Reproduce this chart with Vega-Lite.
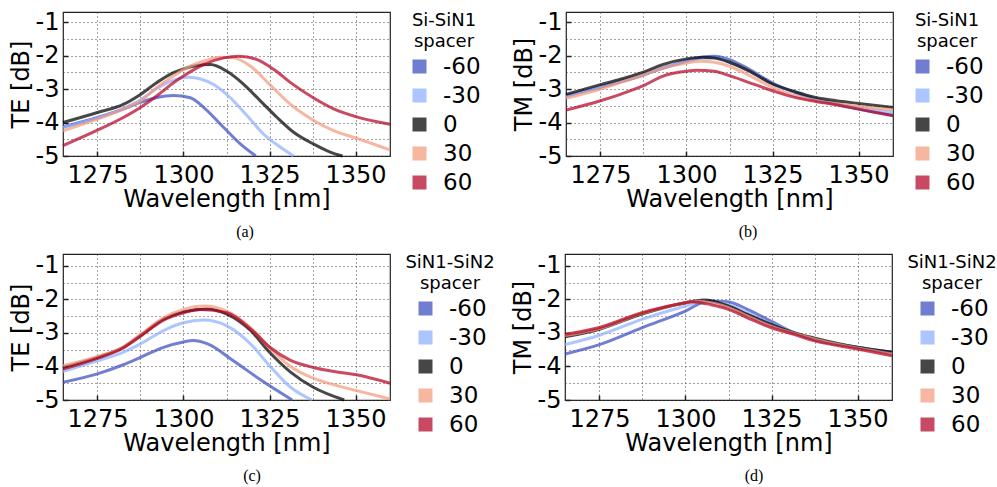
{
  "$schema": "https://vega.github.io/schema/vega-lite/v6.json",
  "padding": {"left": 8, "top": 9, "right": 0, "bottom": 0},
  "datasets": {
    "d": [
      {"p":"a","s":"-60","x":1265,"y":-4.13},{"p":"a","s":"-60","x":1275,"y":-3.85},{"p":"a","s":"-60","x":1282.5,"y":-3.6},{"p":"a","s":"-60","x":1287.5,"y":-3.4},{"p":"a","s":"-60","x":1292,"y":-3.26},{"p":"a","s":"-60","x":1297,"y":-3.19},{"p":"a","s":"-60","x":1302,"y":-3.26},{"p":"a","s":"-60","x":1306,"y":-3.56},{"p":"a","s":"-60","x":1311.7,"y":-4.15},{"p":"a","s":"-60","x":1316.5,"y":-4.64},{"p":"a","s":"-60","x":1321,"y":-5},
      {"p":"a","s":"-30","x":1265,"y":-4.15},{"p":"a","s":"-30","x":1275,"y":-3.86},{"p":"a","s":"-30","x":1282.5,"y":-3.58},{"p":"a","s":"-30","x":1287.5,"y":-3.32},{"p":"a","s":"-30","x":1292,"y":-3.0},{"p":"a","s":"-30","x":1297,"y":-2.74},{"p":"a","s":"-30","x":1301.5,"y":-2.65},{"p":"a","s":"-30","x":1305,"y":-2.7},{"p":"a","s":"-30","x":1309,"y":-2.88},{"p":"a","s":"-30","x":1313.6,"y":-3.26},{"p":"a","s":"-30","x":1318.5,"y":-3.8},{"p":"a","s":"-30","x":1323.3,"y":-4.35},{"p":"a","s":"-30","x":1328.2,"y":-4.74},{"p":"a","s":"-30","x":1332,"y":-5},
      {"p":"a","s":"0","x":1265,"y":-4.0},{"p":"a","s":"0","x":1275,"y":-3.7},{"p":"a","s":"0","x":1282.5,"y":-3.46},{"p":"a","s":"0","x":1287.5,"y":-3.16},{"p":"a","s":"0","x":1292.2,"y":-2.81},{"p":"a","s":"0","x":1297.1,"y":-2.51},{"p":"a","s":"0","x":1300,"y":-2.4},{"p":"a","s":"0","x":1303.9,"y":-2.3},{"p":"a","s":"0","x":1307.8,"y":-2.27},{"p":"a","s":"0","x":1312.6,"y":-2.47},{"p":"a","s":"0","x":1317.5,"y":-2.86},{"p":"a","s":"0","x":1322.4,"y":-3.36},{"p":"a","s":"0","x":1327.2,"y":-3.85},{"p":"a","s":"0","x":1332.1,"y":-4.3},{"p":"a","s":"0","x":1337.7,"y":-4.64},{"p":"a","s":"0","x":1342.8,"y":-4.89},{"p":"a","s":"0","x":1346.2,"y":-5},
      {"p":"a","s":"30","x":1265,"y":-4.25},{"p":"a","s":"30","x":1275,"y":-3.9},{"p":"a","s":"30","x":1282.5,"y":-3.6},{"p":"a","s":"30","x":1287.5,"y":-3.36},{"p":"a","s":"30","x":1292.2,"y":-2.96},{"p":"a","s":"30","x":1297.1,"y":-2.61},{"p":"a","s":"30","x":1300,"y":-2.42},{"p":"a","s":"30","x":1305.8,"y":-2.17},{"p":"a","s":"30","x":1310.7,"y":-2.05},{"p":"a","s":"30","x":1314.6,"y":-2.07},{"p":"a","s":"30","x":1319.5,"y":-2.32},{"p":"a","s":"30","x":1325,"y":-2.86},{"p":"a","s":"30","x":1331.1,"y":-3.46},{"p":"a","s":"30","x":1337.7,"y":-3.93},{"p":"a","s":"30","x":1343.8,"y":-4.25},{"p":"a","s":"30","x":1350.3,"y":-4.47},{"p":"a","s":"30","x":1360,"y":-4.82},
      {"p":"a","s":"60","x":1265,"y":-4.69},{"p":"a","s":"60","x":1275,"y":-4.23},{"p":"a","s":"60","x":1282.5,"y":-3.85},{"p":"a","s":"60","x":1287.5,"y":-3.55},{"p":"a","s":"60","x":1292.2,"y":-3.21},{"p":"a","s":"60","x":1297.1,"y":-2.81},{"p":"a","s":"60","x":1300,"y":-2.61},{"p":"a","s":"60","x":1305.8,"y":-2.27},{"p":"a","s":"60","x":1311.7,"y":-2.07},{"p":"a","s":"60","x":1316.1,"y":-2.02},{"p":"a","s":"60","x":1321.4,"y":-2.12},{"p":"a","s":"60","x":1326.3,"y":-2.42},{"p":"a","s":"60","x":1331.1,"y":-2.81},{"p":"a","s":"60","x":1337.7,"y":-3.26},{"p":"a","s":"60","x":1343.8,"y":-3.6},{"p":"a","s":"60","x":1350.3,"y":-3.83},{"p":"a","s":"60","x":1360,"y":-4.05},

      {"p":"b","s":"-60","x":1265,"y":-3.2},{"p":"b","s":"-60","x":1275,"y":-2.95},{"p":"b","s":"-60","x":1281,"y":-2.78},{"p":"b","s":"-60","x":1287.5,"y":-2.58},{"p":"b","s":"-60","x":1293,"y":-2.38},{"p":"b","s":"-60","x":1300,"y":-2.17},{"p":"b","s":"-60","x":1304.5,"y":-2.05},{"p":"b","s":"-60","x":1308,"y":-2.02},{"p":"b","s":"-60","x":1312.5,"y":-2.12},{"p":"b","s":"-60","x":1318,"y":-2.4},{"p":"b","s":"-60","x":1325,"y":-2.82},{"p":"b","s":"-60","x":1331.5,"y":-3.1},{"p":"b","s":"-60","x":1337.5,"y":-3.3},{"p":"b","s":"-60","x":1343.5,"y":-3.45},{"p":"b","s":"-60","x":1350,"y":-3.6},{"p":"b","s":"-60","x":1360,"y":-3.78},
      {"p":"b","s":"-30","x":1265,"y":-3.22},{"p":"b","s":"-30","x":1275,"y":-2.92},{"p":"b","s":"-30","x":1287.5,"y":-2.55},{"p":"b","s":"-30","x":1293,"y":-2.35},{"p":"b","s":"-30","x":1300,"y":-2.15},{"p":"b","s":"-30","x":1304.5,"y":-2.08},{"p":"b","s":"-30","x":1308,"y":-2.08},{"p":"b","s":"-30","x":1312.5,"y":-2.2},{"p":"b","s":"-30","x":1318,"y":-2.45},{"p":"b","s":"-30","x":1325,"y":-2.85},{"p":"b","s":"-30","x":1331.5,"y":-3.1},{"p":"b","s":"-30","x":1337.5,"y":-3.3},{"p":"b","s":"-30","x":1343.5,"y":-3.43},{"p":"b","s":"-30","x":1350,"y":-3.55},{"p":"b","s":"-30","x":1360,"y":-3.7},
      {"p":"b","s":"0","x":1265,"y":-3.16},{"p":"b","s":"0","x":1275,"y":-2.87},{"p":"b","s":"0","x":1281,"y":-2.7},{"p":"b","s":"0","x":1287.5,"y":-2.5},{"p":"b","s":"0","x":1293,"y":-2.27},{"p":"b","s":"0","x":1300,"y":-2.1},{"p":"b","s":"0","x":1304.5,"y":-2.05},{"p":"b","s":"0","x":1308,"y":-2.07},{"p":"b","s":"0","x":1312.5,"y":-2.2},{"p":"b","s":"0","x":1318,"y":-2.45},{"p":"b","s":"0","x":1325,"y":-2.85},{"p":"b","s":"0","x":1331.5,"y":-3.08},{"p":"b","s":"0","x":1337.5,"y":-3.25},{"p":"b","s":"0","x":1343.5,"y":-3.35},{"p":"b","s":"0","x":1350,"y":-3.43},{"p":"b","s":"0","x":1360,"y":-3.55},
      {"p":"b","s":"30","x":1265,"y":-3.28},{"p":"b","s":"30","x":1275,"y":-3.0},{"p":"b","s":"30","x":1281,"y":-2.8},{"p":"b","s":"30","x":1287.5,"y":-2.58},{"p":"b","s":"30","x":1293,"y":-2.38},{"p":"b","s":"30","x":1300,"y":-2.22},{"p":"b","s":"30","x":1304.5,"y":-2.17},{"p":"b","s":"30","x":1308,"y":-2.2},{"p":"b","s":"30","x":1312.5,"y":-2.32},{"p":"b","s":"30","x":1318,"y":-2.58},{"p":"b","s":"30","x":1325,"y":-2.95},{"p":"b","s":"30","x":1331.5,"y":-3.2},{"p":"b","s":"30","x":1337.5,"y":-3.35},{"p":"b","s":"30","x":1343.5,"y":-3.45},{"p":"b","s":"30","x":1350,"y":-3.52},{"p":"b","s":"30","x":1360,"y":-3.62},
      {"p":"b","s":"60","x":1265,"y":-3.63},{"p":"b","s":"60","x":1275,"y":-3.35},{"p":"b","s":"60","x":1281,"y":-3.15},{"p":"b","s":"60","x":1287.5,"y":-2.9},{"p":"b","s":"60","x":1293,"y":-2.62},{"p":"b","s":"60","x":1300,"y":-2.47},{"p":"b","s":"60","x":1303,"y":-2.44},{"p":"b","s":"60","x":1308,"y":-2.47},{"p":"b","s":"60","x":1312.5,"y":-2.6},{"p":"b","s":"60","x":1318,"y":-2.8},{"p":"b","s":"60","x":1325,"y":-3.05},{"p":"b","s":"60","x":1331.5,"y":-3.25},{"p":"b","s":"60","x":1337.5,"y":-3.37},{"p":"b","s":"60","x":1343.5,"y":-3.47},{"p":"b","s":"60","x":1350,"y":-3.6},{"p":"b","s":"60","x":1360,"y":-3.8},

      {"p":"c","s":"-60","x":1265,"y":-4.47},{"p":"c","s":"-60","x":1275,"y":-4.22},{"p":"c","s":"-60","x":1282.5,"y":-3.95},{"p":"c","s":"-60","x":1287.5,"y":-3.73},{"p":"c","s":"-60","x":1294.2,"y":-3.43},{"p":"c","s":"-60","x":1300,"y":-3.27},{"p":"c","s":"-60","x":1302.7,"y":-3.23},{"p":"c","s":"-60","x":1307,"y":-3.33},{"p":"c","s":"-60","x":1314.5,"y":-3.83},{"p":"c","s":"-60","x":1322.7,"y":-4.42},{"p":"c","s":"-60","x":1331.6,"y":-5},
      {"p":"c","s":"-30","x":1265,"y":-4.15},{"p":"c","s":"-30","x":1275,"y":-3.83},{"p":"c","s":"-30","x":1282.5,"y":-3.58},{"p":"c","s":"-30","x":1287.5,"y":-3.33},{"p":"c","s":"-30","x":1294.2,"y":-2.93},{"p":"c","s":"-30","x":1300,"y":-2.7},{"p":"c","s":"-30","x":1305.8,"y":-2.62},{"p":"c","s":"-30","x":1312.6,"y":-2.79},{"p":"c","s":"-30","x":1319.5,"y":-3.33},{"p":"c","s":"-30","x":1325,"y":-3.98},{"p":"c","s":"-30","x":1331.1,"y":-4.62},{"p":"c","s":"-30","x":1337.3,"y":-5},
      {"p":"c","s":"0","x":1265,"y":-4.03},{"p":"c","s":"0","x":1275,"y":-3.73},{"p":"c","s":"0","x":1282.5,"y":-3.43},{"p":"c","s":"0","x":1287.5,"y":-3.08},{"p":"c","s":"0","x":1294.2,"y":-2.59},{"p":"c","s":"0","x":1300,"y":-2.37},{"p":"c","s":"0","x":1306.8,"y":-2.29},{"p":"c","s":"0","x":1312.6,"y":-2.44},{"p":"c","s":"0","x":1319.5,"y":-2.93},{"p":"c","s":"0","x":1325,"y":-3.58},{"p":"c","s":"0","x":1331.1,"y":-4.17},{"p":"c","s":"0","x":1337.7,"y":-4.62},{"p":"c","s":"0","x":1346.7,"y":-5},
      {"p":"c","s":"30","x":1265,"y":-3.98},{"p":"c","s":"30","x":1275,"y":-3.7},{"p":"c","s":"30","x":1282.5,"y":-3.42},{"p":"c","s":"30","x":1287.5,"y":-3.05},{"p":"c","s":"30","x":1294.2,"y":-2.55},{"p":"c","s":"30","x":1300,"y":-2.3},{"p":"c","s":"30","x":1306,"y":-2.2},{"p":"c","s":"30","x":1312.6,"y":-2.35},{"p":"c","s":"30","x":1319.5,"y":-2.85},{"p":"c","s":"30","x":1325,"y":-3.45},{"p":"c","s":"30","x":1331.1,"y":-4.0},{"p":"c","s":"30","x":1337.7,"y":-4.35},{"p":"c","s":"30","x":1343.8,"y":-4.55},{"p":"c","s":"30","x":1350.3,"y":-4.72},{"p":"c","s":"30","x":1360,"y":-4.97},
      {"p":"c","s":"60","x":1265,"y":-4.08},{"p":"c","s":"60","x":1275,"y":-3.76},{"p":"c","s":"60","x":1282.5,"y":-3.45},{"p":"c","s":"60","x":1287.5,"y":-3.1},{"p":"c","s":"60","x":1294.2,"y":-2.62},{"p":"c","s":"60","x":1300,"y":-2.4},{"p":"c","s":"60","x":1305,"y":-2.3},{"p":"c","s":"60","x":1312.6,"y":-2.4},{"p":"c","s":"60","x":1319.5,"y":-2.88},{"p":"c","s":"60","x":1325,"y":-3.42},{"p":"c","s":"60","x":1331.1,"y":-3.82},{"p":"c","s":"60","x":1337.7,"y":-4.03},{"p":"c","s":"60","x":1343.8,"y":-4.15},{"p":"c","s":"60","x":1350.3,"y":-4.25},{"p":"c","s":"60","x":1360,"y":-4.5},

      {"p":"d","s":"-60","x":1265,"y":-3.63},{"p":"d","s":"-60","x":1275,"y":-3.35},{"p":"d","s":"-60","x":1287.3,"y":-2.85},{"p":"d","s":"-60","x":1300,"y":-2.35},{"p":"d","s":"-60","x":1306.5,"y":-2.05},{"p":"d","s":"-60","x":1312.3,"y":-2.07},{"p":"d","s":"-60","x":1318,"y":-2.3},{"p":"d","s":"-60","x":1324.8,"y":-2.65},{"p":"d","s":"-60","x":1331.7,"y":-3.0},{"p":"d","s":"-60","x":1337.3,"y":-3.2},{"p":"d","s":"-60","x":1349.9,"y":-3.43},{"p":"d","s":"-60","x":1360,"y":-3.58},
      {"p":"d","s":"-30","x":1265,"y":-3.35},{"p":"d","s":"-30","x":1275,"y":-3.07},{"p":"d","s":"-30","x":1287.3,"y":-2.6},{"p":"d","s":"-30","x":1300,"y":-2.2},{"p":"d","s":"-30","x":1304.5,"y":-2.08},{"p":"d","s":"-30","x":1310,"y":-2.1},{"p":"d","s":"-30","x":1318,"y":-2.4},{"p":"d","s":"-30","x":1324.8,"y":-2.72},{"p":"d","s":"-30","x":1331.7,"y":-3.0},{"p":"d","s":"-30","x":1337.3,"y":-3.18},{"p":"d","s":"-30","x":1349.9,"y":-3.43},{"p":"d","s":"-30","x":1360,"y":-3.63},
      {"p":"d","s":"0","x":1265,"y":-3.12},{"p":"d","s":"0","x":1275,"y":-2.89},{"p":"d","s":"0","x":1287.3,"y":-2.44},{"p":"d","s":"0","x":1300,"y":-2.1},{"p":"d","s":"0","x":1305.4,"y":-2.02},{"p":"d","s":"0","x":1312.3,"y":-2.19},{"p":"d","s":"0","x":1318,"y":-2.45},{"p":"d","s":"0","x":1324.8,"y":-2.74},{"p":"d","s":"0","x":1331.7,"y":-3.0},{"p":"d","s":"0","x":1337.3,"y":-3.15},{"p":"d","s":"0","x":1349.9,"y":-3.43},{"p":"d","s":"0","x":1360,"y":-3.58},
      {"p":"d","s":"30","x":1265,"y":-3.08},{"p":"d","s":"30","x":1275,"y":-2.87},{"p":"d","s":"30","x":1287.3,"y":-2.42},{"p":"d","s":"30","x":1300,"y":-2.1},{"p":"d","s":"30","x":1303,"y":-2.05},{"p":"d","s":"30","x":1308,"y":-2.12},{"p":"d","s":"30","x":1312.3,"y":-2.24},{"p":"d","s":"30","x":1318,"y":-2.5},{"p":"d","s":"30","x":1324.8,"y":-2.8},{"p":"d","s":"30","x":1331.7,"y":-3.02},{"p":"d","s":"30","x":1337.3,"y":-3.18},{"p":"d","s":"30","x":1349.9,"y":-3.45},{"p":"d","s":"30","x":1360,"y":-3.63},
      {"p":"d","s":"60","x":1265,"y":-3.04},{"p":"d","s":"60","x":1275,"y":-2.84},{"p":"d","s":"60","x":1287.3,"y":-2.4},{"p":"d","s":"60","x":1300,"y":-2.1},{"p":"d","s":"60","x":1301.6,"y":-2.07},{"p":"d","s":"60","x":1307.4,"y":-2.16},{"p":"d","s":"60","x":1312.3,"y":-2.29},{"p":"d","s":"60","x":1318,"y":-2.55},{"p":"d","s":"60","x":1324.8,"y":-2.84},{"p":"d","s":"60","x":1331.7,"y":-3.05},{"p":"d","s":"60","x":1337.3,"y":-3.23},{"p":"d","s":"60","x":1349.9,"y":-3.48},{"p":"d","s":"60","x":1360,"y":-3.68}
    ]
  },
  "config": {
    "font": "DejaVu Sans",
    "view": {"stroke": "#222", "strokeWidth": 1.2},
    "axis": {
      "labelFontSize": 24, "titleFontSize": 24, "titleFontWeight": "normal",
      "labelColor": "black", "titleColor": "black", "labelFont": "DejaVu Sans", "titleFont": "DejaVu Sans",
      "grid": true, "gridDash": [1, 3], "gridColor": "#444", "gridWidth": 1,
      "domain": false, "tickColor": "#222", "tickSize": -5, "tickWidth": 1.5
    },
    "legend": {
      "symbolType": "square", "symbolSize": 49, "symbolStrokeWidth": 7, "symbolOpacity": 0.72,
      "labelFontSize": 23, "labelColor": "black", "titleFontSize": 18, "titleFontWeight": "normal",
      "titleColor": "black", "titleLineHeight": 21, "rowPadding": -9, "offset": 12, "padding": 0,
      "titleAnchor": "middle", "titlePadding": 4, "labelOffset": 12
    },
    "line": {"opacity": 0.72, "interpolate": "monotone", "clip": true}
  },
  "spacing": 12,
  "resolve": {"scale": {"color": "independent"}, "legend": {"color": "independent"}},
  "vconcat": [
    {
      "spacing": 29,
      "resolve": {"scale": {"color": "independent"}, "legend": {"color": "independent"}},
      "hconcat": [
        {
          "data": {"name": "d"}, "transform": [{"filter": "datum.p == 'a'"}],
          "width": 327, "height": 144, "mark": {"type": "line"},
          "title": {"text": "(a)", "orient": "bottom", "font": "Liberation Serif", "fontSize": 16, "fontWeight": "normal", "color": "black", "frame": "bounds", "anchor": "middle", "offset": 13},
          "encoding": {
            "strokeWidth": {"value": 3},
            "x": {"field": "x", "type": "quantitative", "scale": {"domain": [1265, 1360], "nice": false, "zero": false},
              "axis": {"title": "Wavelength [nm]", "format": "d", "values": [1275, 1287.5, 1300, 1312.5, 1325, 1337.5, 1350], "labelExpr": "datum.value % 25 == 0 ? '' + datum.value : ''", "labelPadding": 12, "titlePadding": 0, "tickOpacity": {"condition": {"test": "datum.value % 25 == 0", "value": 1}, "value": 0}}},
            "y": {"field": "y", "type": "quantitative", "scale": {"domain": [-5, -0.7], "nice": false, "zero": false},
              "axis": {"title": "TE [dB]", "values": [-5, -4.5, -4, -3.5, -3, -2.5, -2, -1.5, -1], "labelExpr": "datum.value % 1 == 0 ? '-' + abs(datum.value) : ''", "labelPadding": 9, "titlePadding": 2, "tickOpacity": {"condition": {"test": "datum.value % 1 == 0", "value": 1}, "value": 0}}},
            "color": {"field": "s", "type": "nominal", "scale": {"domain": ["-60", "-30", "0", "30", "60"], "range": ["#3b4cc0", "#8db0fe", "#000000", "#f49a7b", "#b40426"]}, "legend": {"title": ["Si-SiN1", "spacer"], "symbolStrokeWidth": 7}}
          }
        },
        {
          "data": {"name": "d"}, "transform": [{"filter": "datum.p == 'b'"}],
          "width": 327, "height": 144, "mark": {"type": "line"},
          "title": {"text": "(b)", "orient": "bottom", "font": "Liberation Serif", "fontSize": 16, "fontWeight": "normal", "color": "black", "frame": "bounds", "anchor": "middle", "offset": 13},
          "encoding": {
            "strokeWidth": {"value": 3},
            "x": {"field": "x", "type": "quantitative", "scale": {"domain": [1265, 1360], "nice": false, "zero": false},
              "axis": {"title": "Wavelength [nm]", "format": "d", "values": [1275, 1287.5, 1300, 1312.5, 1325, 1337.5, 1350], "labelExpr": "datum.value % 25 == 0 ? '' + datum.value : ''", "labelPadding": 12, "titlePadding": 0, "tickOpacity": {"condition": {"test": "datum.value % 25 == 0", "value": 1}, "value": 0}}},
            "y": {"field": "y", "type": "quantitative", "scale": {"domain": [-5, -0.7], "nice": false, "zero": false},
              "axis": {"title": "TM [dB]", "values": [-5, -4.5, -4, -3.5, -3, -2.5, -2, -1.5, -1], "labelExpr": "datum.value % 1 == 0 ? '-' + abs(datum.value) : ''", "labelPadding": 9, "titlePadding": 2, "tickOpacity": {"condition": {"test": "datum.value % 1 == 0", "value": 1}, "value": 0}}},
            "color": {"field": "s", "type": "nominal", "scale": {"domain": ["-60", "-30", "0", "30", "60"], "range": ["#3b4cc0", "#8db0fe", "#000000", "#f49a7b", "#b40426"]}, "legend": {"title": ["Si-SiN1", "spacer"], "symbolStrokeWidth": 7}}
          }
        }
      ]
    },
    {
      "spacing": 14,
      "resolve": {"scale": {"color": "independent"}, "legend": {"color": "independent"}},
      "hconcat": [
        {
          "data": {"name": "d"}, "transform": [{"filter": "datum.p == 'c'"}],
          "width": 327, "height": 146, "mark": {"type": "line"},
          "title": {"text": "(c)", "orient": "bottom", "font": "Liberation Serif", "fontSize": 16, "fontWeight": "normal", "color": "black", "frame": "bounds", "anchor": "middle", "offset": 13},
          "encoding": {
            "strokeWidth": {"value": 3},
            "x": {"field": "x", "type": "quantitative", "scale": {"domain": [1265, 1360], "nice": false, "zero": false},
              "axis": {"title": "Wavelength [nm]", "format": "d", "values": [1275, 1287.5, 1300, 1312.5, 1325, 1337.5, 1350], "labelExpr": "datum.value % 25 == 0 ? '' + datum.value : ''", "labelPadding": 12, "titlePadding": 0, "tickOpacity": {"condition": {"test": "datum.value % 25 == 0", "value": 1}, "value": 0}}},
            "y": {"field": "y", "type": "quantitative", "scale": {"domain": [-5, -0.65], "nice": false, "zero": false},
              "axis": {"title": "TE [dB]", "values": [-5, -4.5, -4, -3.5, -3, -2.5, -2, -1.5, -1], "labelExpr": "datum.value % 1 == 0 ? '-' + abs(datum.value) : ''", "labelPadding": 9, "titlePadding": 2, "tickOpacity": {"condition": {"test": "datum.value % 1 == 0", "value": 1}, "value": 0}}},
            "color": {"field": "s", "type": "nominal", "scale": {"domain": ["-60", "-30", "0", "30", "60"], "range": ["#3b4cc0", "#8db0fe", "#000000", "#f49a7b", "#b40426"]}, "legend": {"title": ["SiN1-SiN2", "spacer"], "offset": 9, "symbolStrokeWidth": 7}}
          }
        },
        {
          "data": {"name": "d"}, "transform": [{"filter": "datum.p == 'd'"}],
          "width": 327, "height": 146, "mark": {"type": "line"},
          "title": {"text": "(d)", "orient": "bottom", "font": "Liberation Serif", "fontSize": 16, "fontWeight": "normal", "color": "black", "frame": "bounds", "anchor": "middle", "offset": 13},
          "encoding": {
            "strokeWidth": {"value": 3},
            "x": {"field": "x", "type": "quantitative", "scale": {"domain": [1265, 1360], "nice": false, "zero": false},
              "axis": {"title": "Wavelength [nm]", "format": "d", "values": [1275, 1287.5, 1300, 1312.5, 1325, 1337.5, 1350], "labelExpr": "datum.value % 25 == 0 ? '' + datum.value : ''", "labelPadding": 12, "titlePadding": 0, "tickOpacity": {"condition": {"test": "datum.value % 25 == 0", "value": 1}, "value": 0}}},
            "y": {"field": "y", "type": "quantitative", "scale": {"domain": [-5, -0.65], "nice": false, "zero": false},
              "axis": {"title": "TM [dB]", "values": [-5, -4.5, -4, -3.5, -3, -2.5, -2, -1.5, -1], "labelExpr": "datum.value % 1 == 0 ? '-' + abs(datum.value) : ''", "labelPadding": 9, "titlePadding": 2, "tickOpacity": {"condition": {"test": "datum.value % 1 == 0", "value": 1}, "value": 0}}},
            "color": {"field": "s", "type": "nominal", "scale": {"domain": ["-60", "-30", "0", "30", "60"], "range": ["#3b4cc0", "#8db0fe", "#000000", "#f49a7b", "#b40426"]}, "legend": {"title": ["SiN1-SiN2", "spacer"], "offset": 9, "symbolStrokeWidth": 7}}
          }
        }
      ]
    }
  ]
}
